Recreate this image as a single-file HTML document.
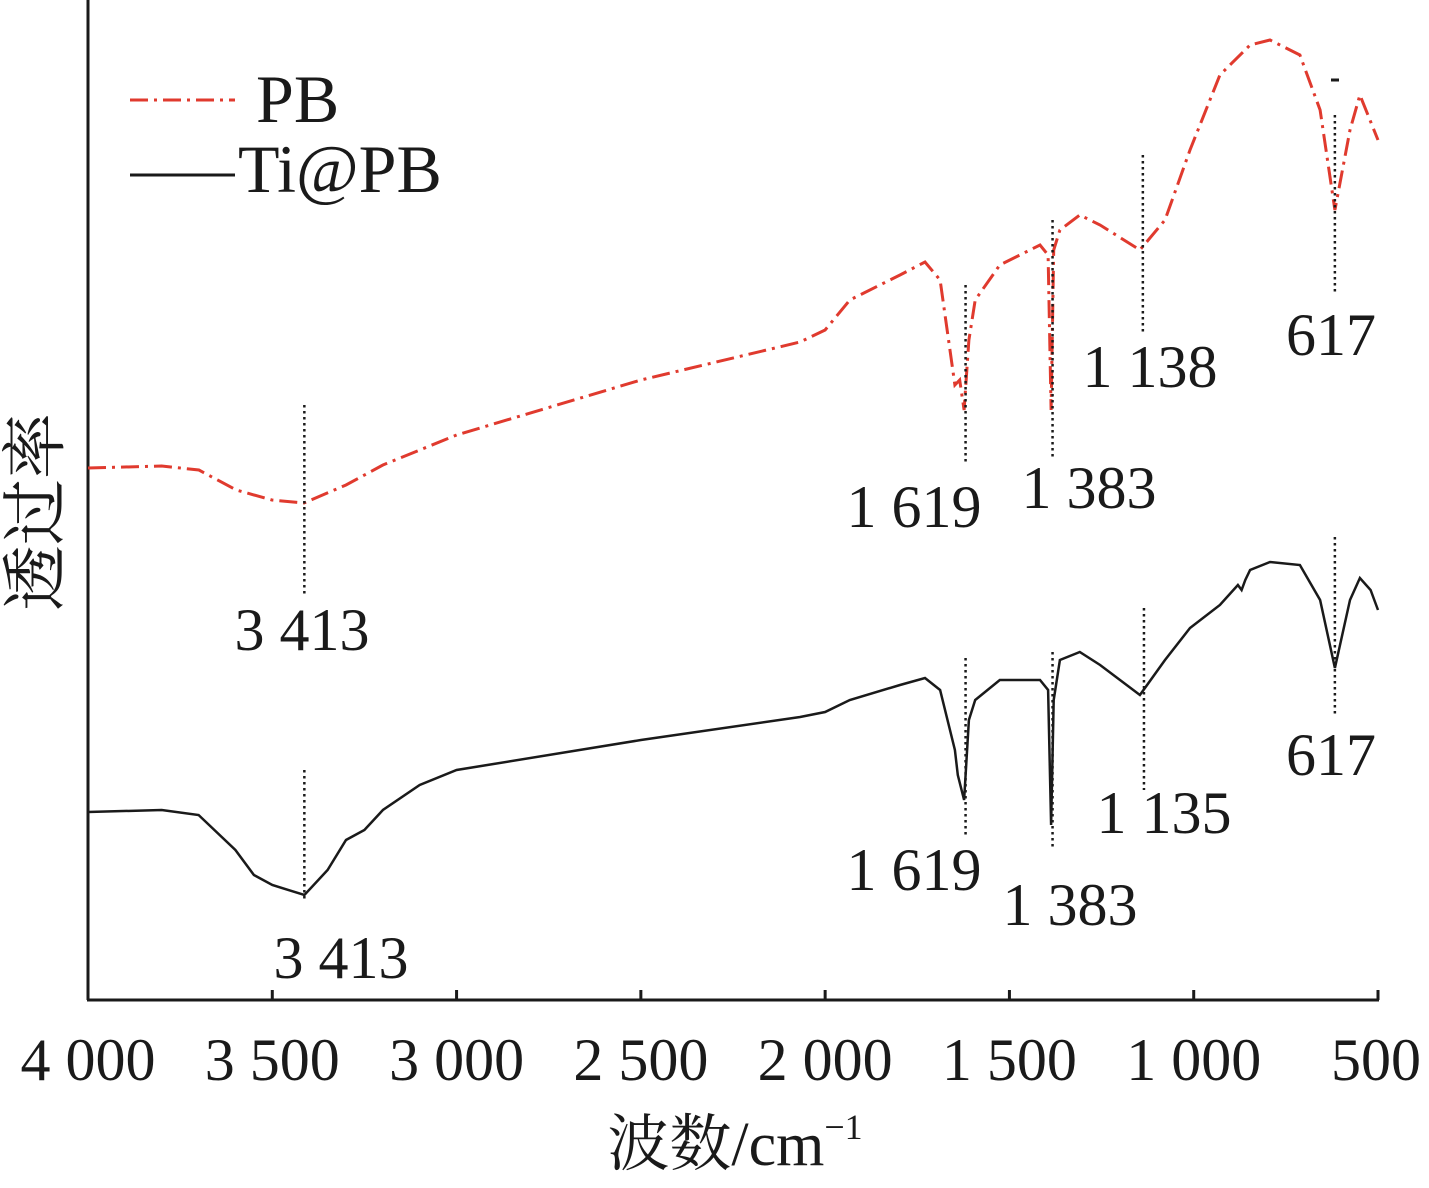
<!DOCTYPE html>
<html><head><meta charset="utf-8"><style>
html,body{margin:0;padding:0;background:#fff;}
svg{display:block;}
text{font-family:"Liberation Serif","Noto Serif CJK SC",serif;fill:#1a1a1a;}
</style></head><body>
<svg width="1429" height="1188" viewBox="0 0 1429 1188">
<g id="axes"></g>
<g id="series"></g>
<g id="annots"></g>
<g>
  <line x1="130" y1="100" x2="235" y2="100" stroke="#e03a2e" stroke-width="3" stroke-dasharray="18,6,3,6"/>
  <text x="256" y="122" font-size="68">PB</text>
  <line x1="130" y1="175" x2="235" y2="175" stroke="#1a1a1a" stroke-width="3"/>
  <text x="238" y="192" font-size="68">Ti@PB</text>
</g>
<line x1="1331" y1="80" x2="1339" y2="80" stroke="#1a1a1a" stroke-width="3"/>
<text x="735" y="1165" font-size="62" text-anchor="middle">波数/cm<tspan font-size="36" dy="-26">−1</tspan></text>
<text transform="translate(58,512) rotate(-90)" font-size="66" text-anchor="middle">透过率</text>
</svg>
<script>
const xTicks=[4000,3500,3000,2500,2000,1500,1000,500];
const xTickLabels=["4 000","3 500","3 000","2 500","2 000","1 500","1 000","500"];
const pbWn=[4000,3800,3699,3598,3501,3414,3300,3200,3000,2500,2068,2000,1933,1797,1729,1688,1648,1635,1623,1610,1593,1526,1417,1395,1387,1380,1363,1309,1254,1146,1078,1010,929,847,793,712,657,617,576,549,500];
const pbT=[53.2,53.4,53.0,51.0,50.0,49.7,51.5,53.5,56.5,62,65.8,67,70,72.5,73.8,72,61.5,62,59,66,70,73.5,75.5,74.5,59,75,77,78.5,77.5,75,78,85,92.5,95.5,96,94.5,89,79,87,90.5,86];
const tiWn=[4000,3800,3700,3600,3550,3500,3413,3350,3300,3250,3200,3100,3000,2500,2068,2000,1933,1797,1729,1688,1648,1640,1623,1610,1593,1526,1417,1395,1387,1380,1363,1309,1254,1146,1078,1010,929,880,870,860,847,793,712,657,617,576,549,520,500];
const tiT=[18.8,19,18.5,15,12.5,11.5,10.5,13,16,17,19,21.5,23,26,28.3,28.8,30,31.5,32.2,31,25,22.5,20,28,30,32,32,31,17.5,30,34,34.8,33.5,30.5,34,37.2,39.5,41.5,41,42,43,43.8,43.5,40,33.2,40,42.2,41,39];
const peaksPB=[{wn:3413,label:"3 413",y0:40.5,y1:59.5,lx:302,ly:650},{wn:1619,label:"1 619",y0:53.5,y1:71.5,lx:914,ly:527},{wn:1383,label:"1 383",y0:54,y1:78,lx:1089,ly:508},{wn:1138,label:"1 138",y0:66.5,y1:84.5,lx:1150,ly:387},{wn:617,label:"617",y0:70.5,y1:88.5,lx:1331,ly:355}];
const peaksTi=[{wn:3413,label:"3 413",y0:10,y1:23,lx:341,ly:978},{wn:1619,label:"1 619",y0:16.5,y1:34.2,lx:914,ly:890},{wn:1383,label:"1 383",y0:15,y1:34.8,lx:1070,ly:925},{wn:1135,label:"1 135",y0:21,y1:39.2,lx:1164,ly:833},{wn:617,label:"617",y0:28.5,y1:46.3,lx:1331,ly:775}];
const X0=88,X1=1378,Y0=1000,Y1=0;
function sx(w){return X0+(4000-w)/3500*(X1-X0);}
function sy(t){return Y0-(t/100)*(Y0-Y1);}
const NS="http://www.w3.org/2000/svg";
function mk(tag,attrs,parent){const e=document.createElementNS(NS,tag);for(const k in attrs)e.setAttribute(k,attrs[k]);parent.appendChild(e);return e;}
const axes=document.getElementById('axes');
let a=mk('line',{x1:X0,y1:0,x2:X0,y2:Y0,stroke:'#1a1a1a','stroke-width':3},axes);


a=mk('line',{x1:X0-1,y1:Y0,x2:X1+1,y2:Y0,stroke:'#1a1a1a','stroke-width':3},axes);


xTicks.forEach((w,i)=>{
  const t=mk('line',{x1:sx(w),y1:Y0,x2:sx(w),y2:Y0-10,stroke:'#1a1a1a','stroke-width':3},axes);
  
  
  const l=mk('text',{x:i==xTicks.length-1?sx(w)-2:sx(w),y:1080,'font-size':60,'text-anchor':'middle'},axes);
  l.textContent=xTickLabels[i];
  
  
});
const ser=document.getElementById('series');
function path(wn,t){return wn.map((w,i)=>(i?'L':'M')+sx(w).toFixed(1)+','+sy(t[i]).toFixed(1)).join(' ');}
let p=mk('path',{d:path(pbWn,pbT),fill:'none',stroke:'#e03a2e','stroke-width':3,'stroke-dasharray':'18,6,3,6'},ser);


p=mk('path',{d:path(tiWn,tiT),fill:'none',stroke:'#1a1a1a','stroke-width':2.5},ser);


const an=document.getElementById('annots');
[peaksPB,peaksTi].forEach(arr=>arr.forEach(pk=>{
  const l=mk('line',{x1:sx(pk.wn),x2:sx(pk.wn),y1:sy(pk.y1),y2:sy(pk.y0),stroke:'#1a1a1a','stroke-width':2.5,'stroke-dasharray':'2.5,3.5'},an);
  
  
  const t=mk('text',{x:pk.lx,y:pk.ly,'font-size':60,'text-anchor':'middle'},an);
  t.textContent=pk.label;
  
  
}));
</script>
</body></html>
